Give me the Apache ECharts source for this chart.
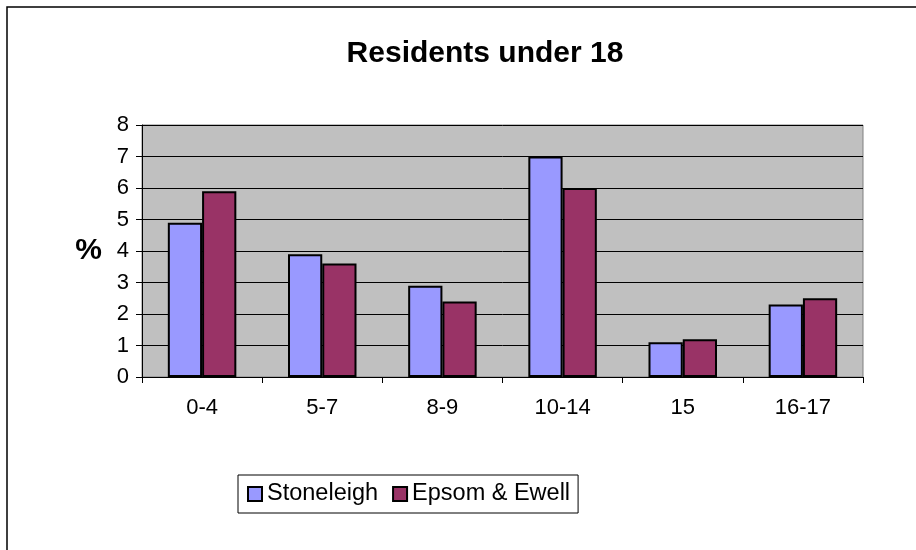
<!DOCTYPE html>
<html>
<head>
<meta charset="utf-8">
<script src="https://cdn.jsdelivr.net/npm/echarts@6/dist/echarts.min.js"></script>
<style>html,body{margin:0;padding:0;background:#fff}#c{width:916px;height:550px}</style>
</head>
<body>
<div id="c"></div>
<script>
var categories = ['0-4', '5-7', '8-9', '10-14', '15', '16-17'];
var stoneleigh = [4.9, 3.9, 2.9, 7.0, 1.1, 2.3];
var epsomEwell = [5.9, 3.6, 2.4, 6.0, 1.2, 2.5];
var seriesNames = ['Stoneleigh', 'Epsom & Ewell'];
var chartTitle = 'Residents under 18';

var FONT = '"Liberation Sans", Arial, sans-serif';
var chart = echarts.init(document.getElementById('c'), null, {renderer: 'canvas'});
chart.setOption({
  animation: false,
  backgroundColor: '#fff',
  textStyle: {fontFamily: FONT},
  title: {
    text: chartTitle, left: 480, top: 34, textAlign: 'center',
    textStyle: {fontFamily: FONT, fontSize: 30, fontWeight: 'bold', color: '#000'}
  },
  graphic: [{
    type: 'rect', silent: true, z: 100,
    shape: {x: 7, y: 7, width: 930, height: 560},
    style: {fill: 'none', stroke: '#000', lineWidth: 1.5}
  }],
  legend: {
    left: 238, top: 475, width: 341,
    padding: [7, 8, 7, 9],
    borderColor: '#000', borderWidth: 1,
    itemWidth: 14, itemHeight: 14, itemGap: 14,
    icon: 'rect',
    textStyle: {fontFamily: FONT, fontSize: 23.5, color: '#000'},
    data: seriesNames
  },
  grid: {left: 142, right: 53, top: 125, bottom: 173, show: true,
    backgroundColor: '#C0C0C0', borderColor: '#808080', borderWidth: 1},
  xAxis: {
    type: 'category', data: categories,
    axisLine: {lineStyle: {color: '#000', width: 1}},
    axisTick: {show: true, length: 6, lineStyle: {color: '#000'}},
    axisLabel: {fontFamily: FONT, fontSize: 22, color: '#000', margin: 20}
  },
  yAxis: {
    type: 'value', min: 0, max: 8, interval: 1,
    name: '%', nameLocation: 'middle', nameRotate: 0, nameGap: 40,
    nameTextStyle: {fontFamily: FONT, fontSize: 30, fontWeight: 'bold', color: '#000', padding: [6, 0, 0, 0]},
    axisLine: {show: true, lineStyle: {color: '#000', width: 1}},
    axisTick: {show: true, length: 6, lineStyle: {color: '#000'}},
    axisLabel: {fontFamily: FONT, fontSize: 22, color: '#000', margin: 13},
    splitLine: {show: true, lineStyle: {color: '#000', width: 1}}
  },
  series: [
    {name: seriesNames[0], type: 'bar', data: stoneleigh, barGap: '0%', barCategoryGap: '43%',
      itemStyle: {color: '#9999FF', borderColor: '#000', borderWidth: 2}},
    {name: seriesNames[1], type: 'bar', data: epsomEwell, barGap: '0%', barCategoryGap: '43%',
      itemStyle: {color: '#993366', borderColor: '#000', borderWidth: 2}}
  ]
});
</script>
</body>
</html>
